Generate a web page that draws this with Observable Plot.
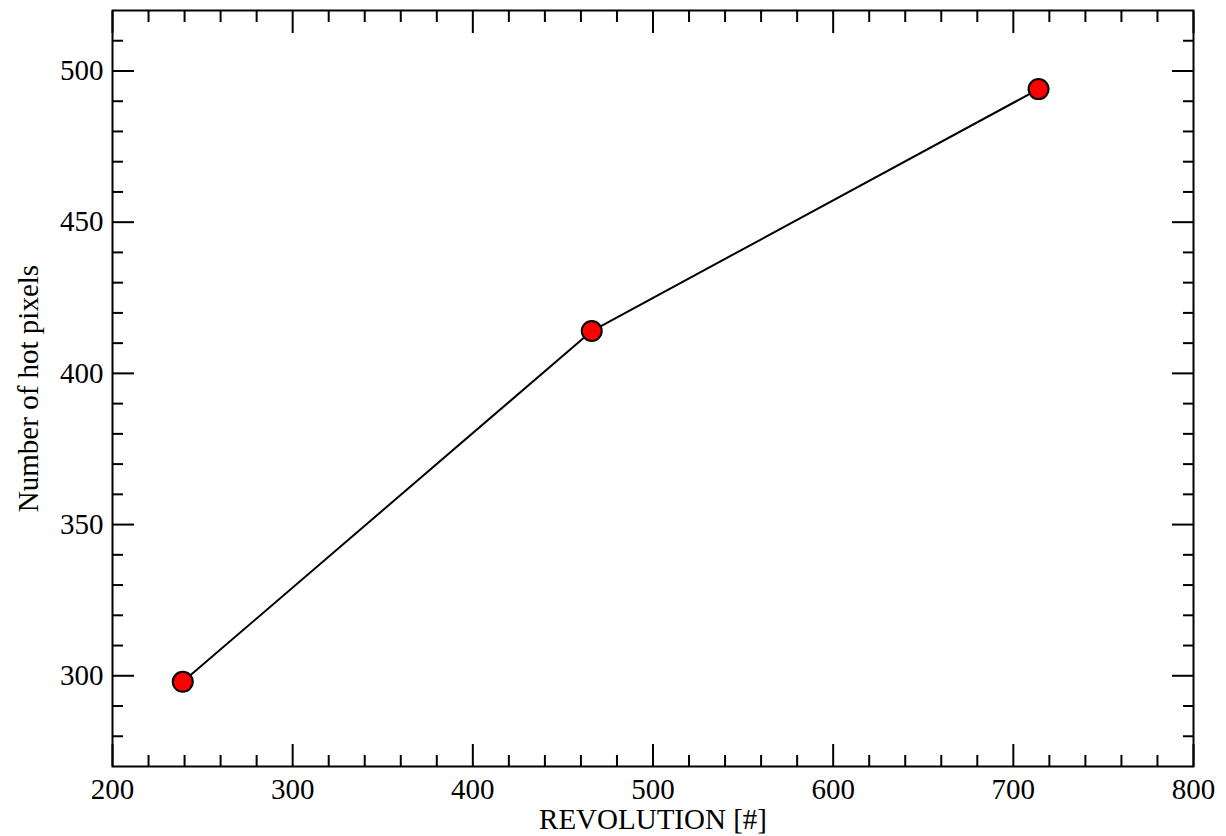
<!DOCTYPE html>
<html><head><meta charset="utf-8">
<script src="https://cdn.jsdelivr.net/npm/d3@7"></script>
<script src="https://cdn.jsdelivr.net/npm/@observablehq/plot@0.6"></script>
<style>body{margin:0;background:#fff} svg{display:block}</style>
</head><body><div id="chart"></div>
<script>
// Data
const revolution = [239, 466, 714];
const hotPixels = [298, 414, 494];

// Axis ticks
const xMajorTicks = [200, 300, 400, 500, 600, 700, 800];
const xMinorTicks = [220, 240, 260, 280, 320, 340, 360, 380, 420, 440, 460, 480, 520, 540, 560, 580, 620, 640, 660, 680, 720, 740, 760, 780];
const yMajorTicks = [300, 350, 400, 450, 500];
const yMinorTicks = [280, 290, 310, 320, 330, 340, 360, 370, 380, 390, 410, 420, 430, 440, 460, 470, 480, 490, 510];

const xLabel = "REVOLUTION [#]";
const yLabel = "Number of hot pixels";

const data = revolution.map((r, i) => ({revolution: r, hotPixels: hotPixels[i]}));

const FS = 29;
const blank = () => "";
const tickMarks = (ticks, dir, size) => {
  const o = {tickSize: size, strokeWidth: 2, tickFormat: blank, label: null, fontSize: 1};
  return dir === "x"
    ? [Plot.axisX(ticks, {...o, anchor: "bottom"}), Plot.axisX(ticks, {...o, anchor: "top"})]
    : [Plot.axisY(ticks, {...o, anchor: "left"}), Plot.axisY(ticks, {...o, anchor: "right"})];
};

const chart = Plot.plot({
  width: 1226,
  height: 836,
  marginLeft: 112,
  marginRight: 33,
  marginTop: 10,
  marginBottom: 70,
  x: {domain: [200, 800]},
  y: {domain: [270, 520]},
  style: {fontFamily: '"Liberation Serif", "Times New Roman", serif', fontSize: FS + "px", color: "#000", background: "#fff", overflow: "visible"},
  marks: [
    Plot.axisX(xMajorTicks, {anchor: "bottom", tickSize: 0, tickPadding: 12, fontSize: FS, label: null}),
    Plot.axisY(yMajorTicks, {anchor: "left", tickSize: 0, tickPadding: 9, fontSize: FS, label: null}),
    ...tickMarks(xMajorTicks, "x", -22),
    ...tickMarks(xMinorTicks, "x", -11),
    ...tickMarks(yMajorTicks, "y", -22),
    ...tickMarks(yMinorTicks, "y", -11),
    Plot.text([xLabel], {frameAnchor: "bottom", text: d => d, dy: 53, textAnchor: "middle", lineAnchor: "middle", fontSize: FS}),
    Plot.text([yLabel], {frameAnchor: "left", text: d => d, rotate: -90, dx: -84, textAnchor: "middle", lineAnchor: "middle", fontSize: FS}),
    Plot.line(data, {x: "revolution", y: "hotPixels", stroke: "#000", strokeWidth: 2}),
    Plot.dot(data, {x: "revolution", y: "hotPixels", r: 10, fill: "#ff0000", stroke: "#000", strokeWidth: 2}),
    Plot.frame({stroke: "#000", strokeWidth: 2})
  ]
});
document.getElementById("chart").appendChild(chart);
</script>
</body></html>
